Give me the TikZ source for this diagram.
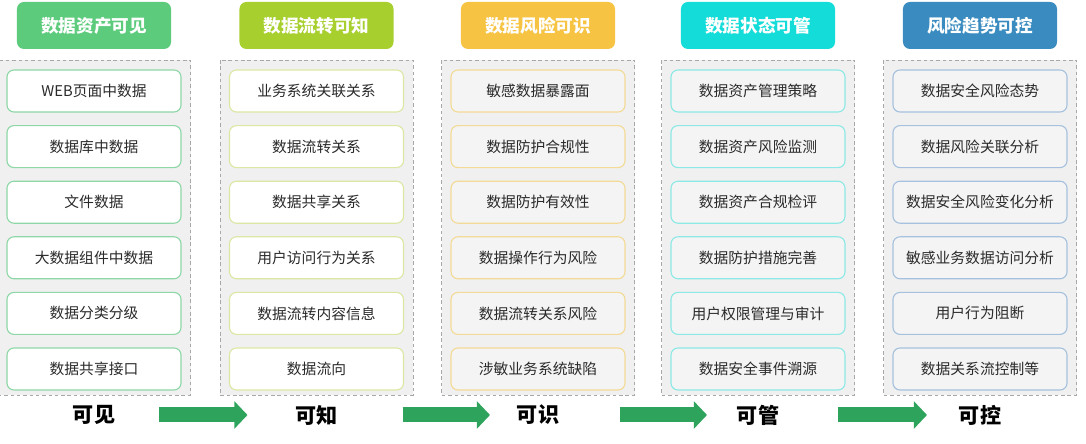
\documentclass[tikz,border=0pt]{standalone}
\usepackage{fontspec}
\setmainfont{Noto Sans CJK SC}
\usetikzlibrary{positioning, arrows.meta}

\definecolor{panelfill}{HTML}{F0F0F0}
\definecolor{panelline}{HTML}{A8A8A8}
\definecolor{flowgreen}{HTML}{2EA35C}
\definecolor{textdark}{HTML}{2A2A2A}
\definecolor{hdrA}{HTML}{5CCB7C}
\definecolor{hdrB}{HTML}{A7CF2E}
\definecolor{hdrC}{HTML}{F6C343}
\definecolor{hdrD}{HTML}{14DCD8}
\definecolor{hdrE}{HTML}{3A8CC0}
\definecolor{brdA}{HTML}{8ED7A6}
\definecolor{brdB}{HTML}{DDE7A4}
\definecolor{brdC}{HTML}{F3DA96}
\definecolor{brdD}{HTML}{8CE9E5}
\definecolor{brdE}{HTML}{A6C1DE}
\definecolor{fillA}{HTML}{FFFFFF}
\definecolor{fillB}{HTML}{FFFFFF}
\definecolor{fillC}{HTML}{F4F4F4}
\definecolor{fillD}{HTML}{F4F4F4}
\definecolor{fillE}{HTML}{F4F4F4}

\tikzset{
	panel/.style={draw=panelline, fill=panelfill, dash pattern=on 2.5pt off 2pt, line width=0.6pt},
	header/.style={rounded corners=5pt, minimum width=3.85cm, minimum height=1.175cm, text=white, font=\bfseries\fontsize{12.5}{12.5}\selectfont},
	item/.style={rounded corners=5pt, minimum width=4.35cm, minimum height=1.05cm, line width=0.8pt, text=textdark, font=\fontsize{10.5}{10.5}\selectfont},
	stage/.style={text=black, font=\bfseries\fontsize{15}{15}\selectfont},
	flow/.style={draw=flowgreen, line width=0.375cm, -{Triangle[length=0.33cm, width=0.675cm]}},
}

\begin{document}
\begin{tikzpicture}[x=0.025cm, y=-0.025cm]
	\useasboundingbox (0,0) rectangle (1086,444);

	% one column per stage
	\foreach \c/\cx/\title/\stagename/\items in {
		A/94/数据资产可见/可见/{WEB页面中数据,数据库中数据,文件数据,大数据组件中数据,数据分类分级,数据共享接口},
		B/316.5/数据流转可知/可知/{业务系统关联关系,数据流转关系,数据共享关系,用户访问行为关系,数据流转内容信息,数据流向},
		C/538/数据风险可识/可识/{敏感数据暴露面,数据防护合规性,数据防护有效性,数据操作行为风险,数据流转关系风险,涉敏业务系统缺陷},
		D/758/数据状态可管/可管/{数据资产管理策略,数据资产风险监测,数据资产合规检评,数据防护措施完善,用户权限管理与审计,数据安全事件溯源},
		E/980/风险趋势可控/可控/{数据安全风险态势,数据风险关联分析,数据安全风险变化分析,敏感业务数据访问分析,用户行为阻断,数据关系流控制等}}
	{
		\node[header, fill=hdr\c] (h\c) at (\cx,25.5) {\title};
		\draw[panel] (\cx-96.5,60) rectangle (\cx+96.5,395);
		\foreach \t [count=\i] in \items
			\node[item, draw=brd\c, fill=fill\c] (i\c\i) at (\cx,91+55.6*\i-55.6) {\t};
		\node[stage] (s\c) at (\cx,415) {\stagename};
	}

	% arrows between the stage labels
	\foreach \a/\b/\sl/\sr in {A/B/1.625cm/1.725cm, B/C/2.15cm/1.2cm, C/D/2.05cm/1.275cm, D/E/2cm/1.325cm}
		\draw[flow, shorten <=\sl, shorten >=\sr] (s\a.center) -- (s\b.center);
\end{tikzpicture}
\end{document}
